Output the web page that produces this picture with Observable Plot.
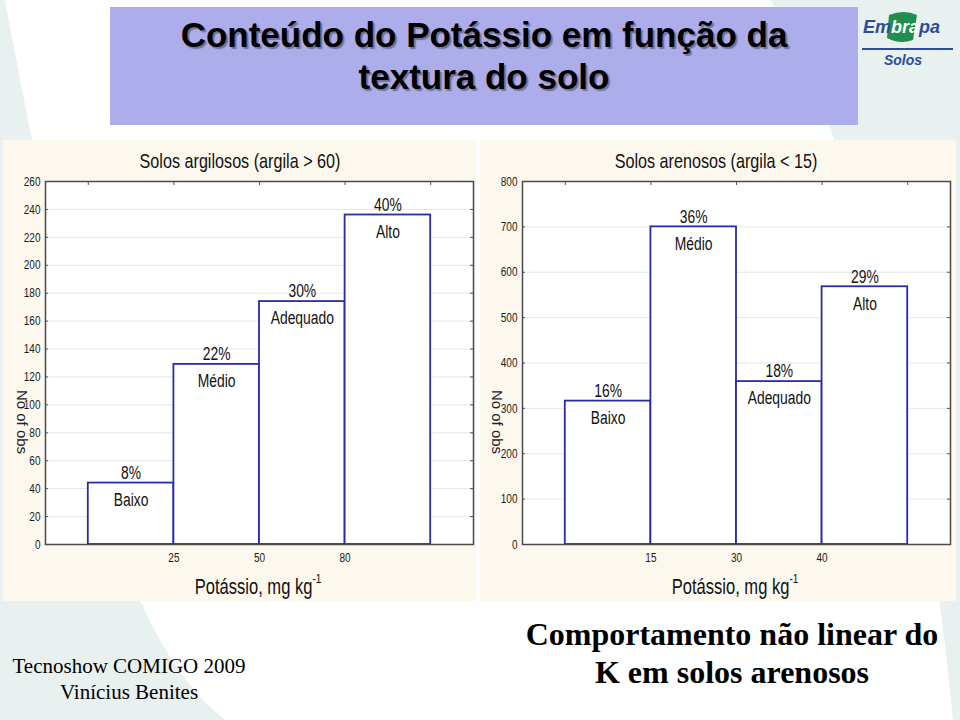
<!DOCTYPE html>
<html><head><meta charset="utf-8">
<script src="https://cdn.jsdelivr.net/npm/d3@7"></script>
<script src="https://cdn.jsdelivr.net/npm/@observablehq/plot@0.6"></script>
<style>
body{margin:0;width:960px;height:720px;position:relative;overflow:hidden;background:#fff;font-family:"Liberation Sans",Arial,sans-serif;}
.abs{position:absolute;}
.panel{position:absolute;top:140px;height:461px;background:#fcf8ee;}
.panel svg{position:absolute;left:0;top:0;}
.ptitle,.xlab{position:absolute;transform:translate(-50%,-50%) scaleX(0.77);white-space:nowrap;font-family:"Liberation Sans",Arial,sans-serif;color:#111;}
.ptitle{font-size:21px;top:21px;}
.xlab{font-size:21.5px;top:447px;}
.xlab sup{font-size:13px;position:relative;top:-3px;}
.ylab{position:absolute;transform:translate(-50%,-50%) rotate(90deg);white-space:nowrap;font-size:15px;color:#222;top:282px;}
#titlebox{left:110px;top:7px;width:748px;height:118px;background:#adadeb;}
.title{left:110px;width:748px;text-align:center;font-weight:bold;font-size:35px;line-height:42px;color:#000;text-shadow:2px 2px 1px rgba(0,0,0,0.35);}
.serif{font-family:"Liberation Serif","Times New Roman",serif;text-align:center;color:#000;}
</style></head><body>
<svg class="abs" style="left:0;top:0" width="960" height="720">
  <path d="M0,0 L5,0 Q60,300 140,600 Q175,680 225,720 L0,720 Z" fill="#e8f1ef"/>
  <path d="M770,0 L960,0 L960,720 L953,720 Q925,420 831,130 Q805,55 770,0 Z" fill="#e8f1ef"/>
</svg>
<div id="titlebox" class="abs"></div>
<div class="abs title" style="top:14px">Conteúdo do Potássio em função da<br>textura do solo</div>
<svg class="abs" style="left:858px;top:0" width="102" height="75">
  <path d="M31,15 Q46,9 59,15 L55,40 Q42,45 29,38 Z" fill="#1f8f4e"/>
  <text x="5" y="33" font-family="Liberation Sans, Arial, sans-serif" font-style="italic" font-weight="bold" font-size="18" fill="#2c4c9c"><tspan>Em</tspan><tspan fill="#ffffff">bra</tspan><tspan>pa</tspan></text>
  <line x1="4" x2="95" y1="49" y2="49" stroke="#2c4c9c" stroke-width="2"/>
  <text x="45" y="65" text-anchor="middle" font-family="Liberation Sans, Arial, sans-serif" font-style="italic" font-weight="bold" font-size="14" fill="#2c4c9c">Solos</text>
</svg>

<div class="panel" id="p1" style="left:3px;width:473px;">
  <div class="ptitle" style="left:237px">Solos argilosos (argila &gt; 60)</div>
  <div class="ylab" style="left:19px">No of obs</div>
  <div class="xlab" style="left:255px">Potássio, mg kg<sup>-1</sup></div>
</div>
<div class="panel" id="p2" style="left:480px;width:476px;">
  <div class="ptitle" style="left:236px">Solos arenosos (argila &lt; 15)</div>
  <div class="ylab" style="left:17px">No of obs</div>
  <div class="xlab" style="left:255px">Potássio, mg kg<sup>-1</sup></div>
</div>

<div class="abs serif" style="left:0;top:653px;width:258px;font-size:21px;line-height:26px;">Tecnoshow COMIGO 2009<br>Vinícius Benites</div>
<div class="abs serif" style="left:482px;top:615px;width:500px;font-size:32px;line-height:38px;font-weight:bold;">Comportamento não linear do<br>K em solos arenosos</div>

<script>
// ---- data ----
const classes = ["Baixo", "Médio", "Adequado", "Alto"];
const clayCounts = [44, 129, 174, 236];
const clayPct = ["8%", "22%", "30%", "40%"];
const clayEdgeLabels = ["25", "50", "80"];
const clayYTicks = [0, 20, 40, 60, 80, 100, 120, 140, 160, 180, 200, 220, 240, 260];

const sandCounts = [316, 700, 359, 568];
const sandPct = ["16%", "36%", "18%", "29%"];
const sandEdgeLabels = ["15", "30", "40"];
const sandYTicks = [0, 100, 200, 300, 400, 500, 600, 700, 800];

const FONT = '"Liberation Sans",Arial,sans-serif';

function panel(counts, pct, edgeLabels, yTicks, width, marginRight) {
  const rows = counts.map((c, i) => ({bin: i, count: c, pct: pct[i], cls: classes[i]}));
  const edgePos = edgeLabels.map((l, i) => i + 1.5);
  const height = 461, mt = 41, mb = 57, ml = 42;
  const plotW = width - ml - marginRight, plotH = height - mt - mb;
  const yMax = yTicks[yTicks.length - 1];
  const barEdges = rows.map((d) => d.bin + 0.5).concat([rows.length + 0.5]);
  return Plot.plot({
    width, height, marginLeft: ml, marginRight, marginTop: mt, marginBottom: mb,
    style: {background: "transparent", fontFamily: FONT, fontSize: "13px", color: "#1a1a1a"},
    x: {domain: [0, rows.length + 1], axis: null},
    y: {domain: [0, yMax], axis: null},
    marks: [
      Plot.frame({fill: "white", stroke: null}),
      Plot.ruleY(yTicks.slice(1, -1), {stroke: "#e6e6e6", strokeWidth: 1}),
      Plot.rect(rows, {x1: (d) => d.bin + 0.5, x2: (d) => d.bin + 1.5, y1: 0, y2: "count", fill: "white", stroke: "#2b2ba8", strokeWidth: 1.8}),
      Plot.text(rows, {x: (d) => d.bin + 1, y: "count", text: "pct", dy: -10, fontSize: 18, fill: "#111"}),
      Plot.text(rows, {x: (d) => d.bin + 1, y: "count", text: "cls", dy: 17, fontSize: 18, fill: "#111"}),
      Plot.axisY({ticks: yTicks, tickSize: 0, tickPadding: 5, label: null, fontSize: 13}),
      Plot.axisX({ticks: edgePos, tickFormat: (d) => edgeLabels[Math.round(d - 1.5)], tickSize: 0, tickPadding: 8, label: null, fontSize: 13}),
      Plot.tickY(yTicks, {y: (d) => d, insetRight: plotW - 3, stroke: "#555"}),
      Plot.tickY(yTicks, {y: (d) => d, insetLeft: plotW - 3, stroke: "#555"}),
      Plot.tickX(barEdges, {x: (d) => d, insetBottom: plotH - 4, stroke: "#555"}),
      Plot.frame({stroke: "#4a4a4a", strokeWidth: 1.5})
    ]
  });
}

// narrow the glyphs the way the original (condensed) slide text looks
function condense(svg, k) {
  svg.querySelectorAll("text").forEach((t) => {
    const L = t.getComputedTextLength();
    if (L > 0) {
      t.setAttribute("textLength", (L * k).toFixed(2));
      t.setAttribute("lengthAdjust", "spacingAndGlyphs");
    }
  });
}

const c1 = panel(clayCounts, clayPct, clayEdgeLabels, clayYTicks, 473, 3);
document.getElementById("p1").prepend(c1);
condense(c1, 0.77);
const c2 = panel(sandCounts, sandPct, sandEdgeLabels, sandYTicks, 476, 6);
document.getElementById("p2").prepend(c2);
condense(c2, 0.77);
</script>
</body></html>
